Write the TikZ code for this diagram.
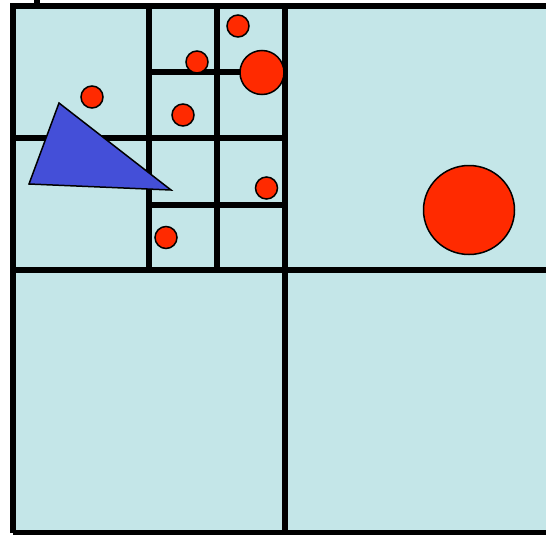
\documentclass[tikz,border=0pt]{standalone}
\begin{document}
\begin{tikzpicture}[x=1pt,y=-1pt,
  gridline/.style={line width=5.2pt,black},
  dot/.style={fill=dotred,draw=black,line width=1.5pt}]
\definecolor{cellfill}{HTML}{C4E6E8}
\definecolor{dotred}{HTML}{FF2A00}
\definecolor{triblue}{HTML}{444FD8}
\useasboundingbox (0,0) rectangle (546,535);
\fill[cellfill] (13,6) rectangle (560,533);
% stray mark at top
\fill[black] (34,0) rectangle (40,4);
% grid
\draw[gridline] (13,533) -- (13,6) -- (560,6);
\draw[gridline] (13,533) -- (560,533);
\draw[gridline] (13,270) -- (560,270);
\draw[gridline] (285,6) -- (285,533);
\draw[gridline] (149,6) -- (149,270);
\draw[gridline] (217,6) -- (217,270);
\draw[gridline] (13,138) -- (285,138);
\draw[gridline] (149,72) -- (285,72);
\draw[gridline] (149,205) -- (285,205);
% triangle
\draw[fill=triblue,draw=black,line width=1.5pt,line join=miter] (59,103) -- (29,184) -- (171,190) -- cycle;
% circles
\draw[dot] (238,26) circle (11);
\draw[dot] (197,62) circle (11);
\draw[dot] (262,72.5) circle (22);
\draw[dot] (92,97) circle (11);
\draw[dot] (183,115) circle (11);
\draw[dot] (266.5,188) circle (11);
\draw[dot] (166,237.5) circle (11);
\draw[dot] (469,210) ellipse (45.5 and 44.5);
\end{tikzpicture}
\end{document}
